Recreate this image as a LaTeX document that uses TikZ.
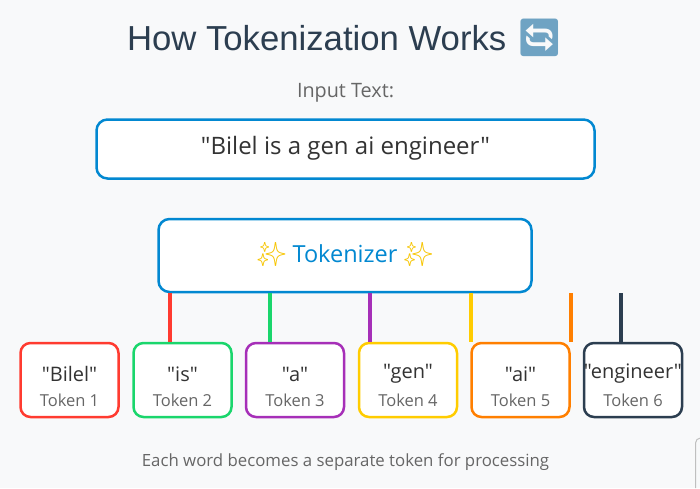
\documentclass[tikz,border=0pt]{standalone}
\usepackage{fontspec}
\setmainfont{Open Sans}[Ligatures=TeXOff]
\newfontfamily\titlefont{Liberation Sans}
\newfontfamily\emojifont{Noto Emoji}
\definecolor{bg}{HTML}{F8F9FA}
\definecolor{titlec}{HTML}{2C3E50}
\definecolor{textc}{HTML}{333333}
\definecolor{grayc}{HTML}{666666}
\definecolor{bluec}{HTML}{0288D1}
\definecolor{c1}{HTML}{FF3B30}
\definecolor{c2}{HTML}{1AD66C}
\definecolor{c3}{HTML}{A62FB8}
\definecolor{c4}{HTML}{FFCC00}
\definecolor{c5}{HTML}{FF7F00}
\definecolor{c6}{HTML}{2C3E50}
\definecolor{sparkc}{HTML}{F7C500}
\definecolor{syncc}{HTML}{6FA3C3}
\tikzset{
  bigbox/.style={draw=bluec, fill=white, line width=2.5pt, rounded corners=11pt, inner sep=0pt},
  tokbox/.style={draw=#1, fill=white, line width=2.5pt, rounded corners=10pt, inner sep=0pt,
    minimum width=98pt, minimum height=74pt},
  tokword/.style={text=textc, font=\fontsize{20}{24}\selectfont, inner sep=0pt},
  toknum/.style={text=grayc, font=\fontsize{16.5}{20}\selectfont, inner sep=0pt},
  link/.style={draw=#1, line width=4pt},
}
\begin{document}
\begin{tikzpicture}[x=1pt,y=-1pt]
\fill[bg] (0,0) rectangle (700,488);
\useasboundingbox (0,0) rectangle (700,488);

\node (title) at (345,38) {\titlefont\fontsize{34.7}{42}\selectfont\color{titlec}How Tokenization Works {\emojifont\fontsize{37}{42}\selectfont\color{syncc}🔄}};
\node[text=grayc, font=\fontsize{19.8}{24}\selectfont] (inlabel) at (345.5,93) {Input Text:};
\node[bigbox, minimum width=498pt, minimum height=59pt] (input) at (345.5,149) {};
\node[text=textc, font=\fontsize{24}{28}\selectfont] (intext) at (345.5,148) {"Bilel is a gen ai engineer"};
\node[bigbox, minimum width=373pt, minimum height=73pt] (tok) at (345,255.5) {};
\node[text=bluec, font=\fontsize{23.5}{28}\selectfont] (toktext) at (345,254) {{\emojifont\color{sparkc}✨} Tokenizer {\emojifont\color{sparkc}✨}};

\foreach \i/\x/\w in {1/69.5/"Bilel", 2/182.5/"is", 3/295/"a", 4/408/"gen", 5/520.5/"ai", 6/633/"engineer"}{
  \node[tokbox=c\i] (t\i) at (\x,380) {};
  \node[tokword] (w\i) at (\x,374) {\w};
  \node[toknum] (n\i) at (\x,400) {Token \i};
}

\foreach \i/\x in {1/170, 2/270, 3/370, 4/470.5, 5/570.5, 6/620.5}{
  \coordinate (top\i) at (\x,293);
  \coordinate (bot\i) at (\x,342);
  \draw[link=c\i] (top\i) -- (bot\i);
}

\node[text=grayc, font=\fontsize{16.8}{20}\selectfont] (foot) at (345.5,462) {Each word becomes a separate token for processing};

\draw[black!25, line width=1pt, rounded corners=5pt] (695.5,488) -- (695.5,438) -- (704,438);
\end{tikzpicture}
\end{document}
